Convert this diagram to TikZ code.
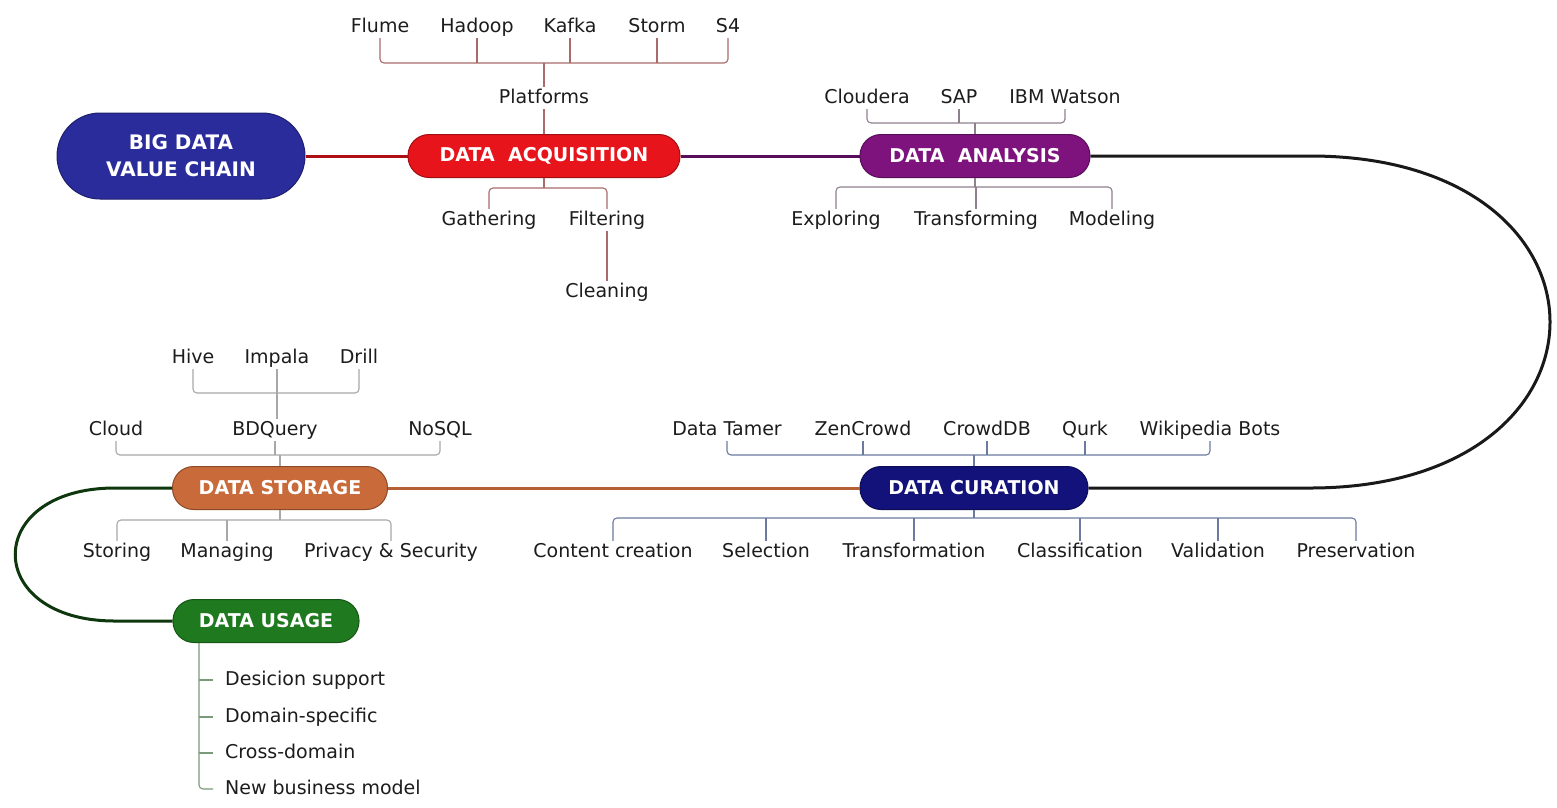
\documentclass[tikz,border=0pt]{standalone}
\usepackage{fontspec}
\setmainfont{DejaVu Sans}
\definecolor{bigblue}{HTML}{2A2C9C}
\definecolor{acqred}{HTML}{E8141C}
\definecolor{anapurple}{HTML}{7E137E}
\definecolor{curnavy}{HTML}{12127A}
\definecolor{storange}{HTML}{C96A3A}
\definecolor{usegreen}{HTML}{1F7A1F}
\definecolor{acqbrc}{HTML}{A86A6A}
\definecolor{anabrc}{HTML}{8F7F8F}
\definecolor{stobrc}{HTML}{A8A8A8}
\definecolor{curbrc}{HTML}{6C7AA0}
\definecolor{usebrc}{HTML}{7A9A7A}
\definecolor{txt}{HTML}{1C1C1C}
\begin{document}
\begin{tikzpicture}[x=1pt,y=-1pt,
  mainnode/.style={draw=#1!70!black, line width=1pt, fill=#1, text=white,
    font=\fontsize{19}{22}\selectfont\bfseries, rounded corners=21pt,
    minimum height=43pt, inner sep=0pt},
  lbl/.style={text=txt, font=\fontsize{19}{22}\selectfont, inner sep=2pt,
    text height=14pt, text depth=4pt, yshift=-2pt},
  uitem/.style={lbl, anchor=west, inner xsep=12pt},
  br/.style={draw=#1, line width=1.1pt, rounded corners=4pt},
  conn/.style={draw=#1, line width=3pt}
]
\useasboundingbox (0,0) rectangle (1557,807);

% main nodes
\node[mainnode=bigblue, minimum width=248pt, minimum height=86pt, rounded corners=43pt,
      align=center, font=\fontsize{20}{27}\selectfont\bfseries] (big) at (181,156) {BIG DATA\\VALUE CHAIN};
\node[mainnode=acqred, minimum width=272pt] (acq) at (544,156) {DATA\ \ ACQUISITION};
\node[mainnode=anapurple, minimum width=230pt] (ana) at (975,156) {DATA\ \ ANALYSIS};
\node[mainnode=curnavy, minimum width=228pt] (cur) at (974,488) {DATA CURATION};
\node[mainnode=storange, minimum width=215pt] (sto) at (280,488) {DATA STORAGE};
\node[mainnode=usegreen, minimum width=186pt] (use) at (266,621) {DATA USAGE};

% main connectors
\coordinate (rc1) at (1310,156);
\coordinate (rc2) at (1310,488);
\coordinate (lc1) at (115,488);
\coordinate (lc2) at (115,621);
\draw[conn={acqred!75!black}] (big.east) -- (acq.west);
\draw[conn={anapurple!70!black}] (acq.east) -- (ana.west);
\draw[conn={black!90}] (ana.east) -- (rc1) .. controls (1630,156) and (1630,488) .. (rc2) -- (cur.east);
\draw[conn={storange!90!black}] (cur.west) -- (sto.east);
\draw[conn={usegreen!45!black}] (sto.west) -- (lc1) .. controls (-18,488) and (-18,621) .. (lc2) -- (use.west);

% ---- Data acquisition
\node[lbl] (flume) at (380,25) {Flume};
\node[lbl] (hadoop) at (477,25) {Hadoop};
\node[lbl] (kafka) at (570,25) {Kafka};
\node[lbl] (storm) at (657,25) {Storm};
\node[lbl] (s4) at (728,25) {S4};
\node[lbl] (platforms) at (544,96) {Platforms};
\node[lbl] (gathering) at (489,218) {Gathering};
\node[lbl] (filtering) at (607,218) {Filtering};
\node[lbl] (cleaning) at (607,290) {Cleaning};
\coordinate (acqT) at (544,63);
\coordinate (acqB) at (544,188);
\draw[br=acqbrc] (flume.south) -- (flume.south |- acqT) -- (s4.south |- acqT) -- (s4.south);
\draw[br=acqbrc] (hadoop.south) -- (hadoop.south |- acqT);
\draw[br=acqbrc] (kafka.south) -- (kafka.south |- acqT);
\draw[br=acqbrc] (storm.south) -- (storm.south |- acqT);
\draw[br=acqbrc] (acqT) -- (platforms.north);
\draw[br=acqbrc] (platforms.south) -- (acq.north);
\draw[br=acqbrc] (acq.south) -- (acqB);
\draw[br=acqbrc] (gathering.north) -- (gathering.north |- acqB) -- (filtering.north |- acqB) -- (filtering.north);
\draw[br=acqbrc] (filtering.south) -- (cleaning.north);

% ---- Data analysis
\node[lbl] (cloudera) at (867,96) {Cloudera};
\node[lbl] (sap) at (959,96) {SAP};
\node[lbl] (ibm) at (1065,96) {IBM Watson};
\node[lbl] (exploring) at (836,218) {Exploring};
\node[lbl] (transforming) at (976,218) {Transforming};
\node[lbl] (modeling) at (1112,218) {Modeling};
\coordinate (anaT) at (975,123);
\coordinate (anaB) at (975,187);
\draw[br=anabrc] (cloudera.south) -- (cloudera.south |- anaT) -- (ibm.south |- anaT) -- (ibm.south);
\draw[br=anabrc] (sap.south) -- (sap.south |- anaT);
\draw[br=anabrc] (anaT) -- (ana.north);
\draw[br=anabrc] (ana.south) -- (anaB);
\draw[br=anabrc] (exploring.north) -- (exploring.north |- anaB) -- (modeling.north |- anaB) -- (modeling.north);
\draw[br=anabrc] (transforming.north) -- (transforming.north |- anaB);

% ---- Data storage
\node[lbl] (hive) at (193,356) {Hive};
\node[lbl] (impala) at (277,356) {Impala};
\node[lbl] (drill) at (359,356) {Drill};
\node[lbl] (cloud) at (116,428) {Cloud};
\node[lbl] (bdquery) at (275,428) {BDQuery};
\node[lbl] (nosql) at (440,428) {NoSQL};
\node[lbl] (storing) at (117,550) {Storing};
\node[lbl] (managing) at (227,550) {Managing};
\node[lbl] (privacy) at (391,550) {Privacy \& Security};
\coordinate (qT) at (277,393);
\coordinate (stoT) at (280,455);
\coordinate (stoB) at (280,520);
\draw[br=stobrc] (hive.south) -- (hive.south |- qT) -- (drill.south |- qT) -- (drill.south);
\draw[br=stobrc] (impala.south) -- (impala.south |- qT);
\draw[br=stobrc] (qT) -- (bdquery.north -| qT);
\draw[br=stobrc] (cloud.south) -- (cloud.south |- stoT) -- (nosql.south |- stoT) -- (nosql.south);
\draw[br=stobrc] (bdquery.south) -- (bdquery.south |- stoT);
\draw[br=stobrc] (stoT) -- (sto.north);
\draw[br=stobrc] (sto.south) -- (stoB);
\draw[br=stobrc] (storing.north) -- (storing.north |- stoB) -- (privacy.north |- stoB) -- (privacy.north);
\draw[br=stobrc] (managing.north) -- (managing.north |- stoB);

% ---- Data curation
\node[lbl] (tamer) at (727,428) {Data Tamer};
\node[lbl] (zen) at (863,428) {ZenCrowd};
\node[lbl] (crowddb) at (987,428) {CrowdDB};
\node[lbl] (qurk) at (1085,428) {Qurk};
\node[lbl] (wiki) at (1210,428) {Wikipedia Bots};
\node[lbl] (content) at (613,550) {Content creation};
\node[lbl] (selection) at (766,550) {Selection};
\node[lbl] (transformation) at (914,550) {Transformation};
\node[lbl] (classification) at (1080,550) {Classification};
\node[lbl] (validation) at (1218,550) {Validation};
\node[lbl] (preservation) at (1356,550) {Preservation};
\coordinate (curT) at (974,455);
\coordinate (curB) at (974,518);
\draw[br=curbrc] (tamer.south) -- (tamer.south |- curT) -- (wiki.south |- curT) -- (wiki.south);
\draw[br=curbrc] (zen.south) -- (zen.south |- curT);
\draw[br=curbrc] (crowddb.south) -- (crowddb.south |- curT);
\draw[br=curbrc] (qurk.south) -- (qurk.south |- curT);
\draw[br=curbrc] (curT) -- (cur.north);
\draw[br=curbrc] (cur.south) -- (curB);
\draw[br=curbrc] (content.north) -- (content.north |- curB) -- (preservation.north |- curB) -- (preservation.north);
\draw[br=curbrc] (selection.north) -- (selection.north |- curB);
\draw[br=curbrc] (transformation.north) -- (transformation.north |- curB);
\draw[br=curbrc] (classification.north) -- (classification.north |- curB);
\draw[br=curbrc] (validation.north) -- (validation.north |- curB);

% ---- Data usage
\node[uitem] (u1) at (213,678) {Desicion support};
\node[uitem] (u2) at (213,715) {Domain-specific};
\node[uitem] (u3) at (213,751) {Cross-domain};
\node[uitem] (u4) at (213,787) {New business model};
\coordinate (ubar) at (199,0);
\draw[br=usebrc] (ubar |- use.south) -- (ubar |- u4.west) -- (u4.west);
\draw[br=usebrc] (ubar |- u1.west) -- (u1.west);
\draw[br=usebrc] (ubar |- u2.west) -- (u2.west);
\draw[br=usebrc] (ubar |- u3.west) -- (u3.west);
\end{tikzpicture}
\end{document}
